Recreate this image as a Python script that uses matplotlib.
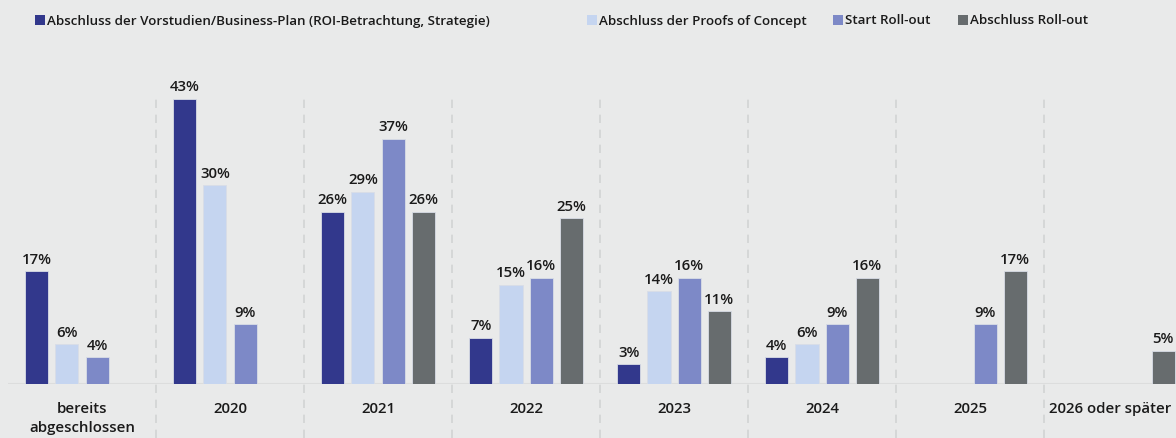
import numpy as np
import matplotlib.pyplot as plt
from matplotlib.patches import Rectangle
from matplotlib.transforms import blended_transform_factory

# --- DATA ---
categories = ['bereits\nabgeschlossen', '2020', '2021', '2022', '2023', '2024', '2025', '2026 oder später']
series_names = ['Abschluss der Vorstudien/Business-Plan (ROI-Betrachtung, Strategie)',
                'Abschluss der Proofs of Concept', 'Start Roll-out', 'Abschluss Roll-out']
vorstudien = [17, 43, 26, 7, 3, 4, None, None]
proofs = [6, 30, 29, 15, 14, 6, None, None]
start_rollout = [4, 9, 37, 16, 16, 9, 9, None]
abschluss_rollout = [None, None, 26, 25, 11, 16, 17, 5]

# --- CONFIG ---
COLORS = ['#32388c', '#c5d5f0', '#7d89c7', '#676c6e']
BG = '#e9eaea'
FONT = 'Open Sans'

plt.rcParams['font.family'] = [FONT, 'DejaVu Sans']

fig = plt.figure(figsize=(11.76, 4.39), dpi=100, facecolor=BG)
# axes spans pixel 8..1184 horizontally (cropped at the right edge), baseline at y=385
ax = fig.add_axes([8 / 1176, 54 / 439, 1176 / 1176, 331 / 439])
ax.set_facecolor(BG)

px_per_unit = 6.63
ax.set_xlim(-0.5, 7.5 - 8 / 147)
ax.set_ylim(0, 331 / px_per_unit)

all_series = [vorstudien, proofs, start_rollout, abschluss_rollout]
x = np.arange(len(categories))
step = 30 / 147
width = 23 / 147

for i, vals in enumerate(all_series):
    for j, v in enumerate(vals):
        if v is None:
            continue
        xpos = x[j] + (i - 1.5) * step
        ax.bar(xpos, v, width=width, color=COLORS[i], edgecolor='#d9dde6', linewidth=0.6, zorder=3)
        ax.annotate(f'{v}%', (xpos, v), xytext=(0, 4), textcoords='offset points',
                    ha='center', va='bottom', fontsize=10.8, fontweight='semibold', color='#1a1a1a')

# dashed separators between groups
bottom = -54 / px_per_unit
for k in range(1, len(categories)):
    ax.vlines(k - 0.5, bottom, 43.7, colors='#d2d4d4', linestyles=(0, (5, 4)), linewidth=1.2,
              clip_on=False, zorder=1)

# baseline
ax.axhline(0, color='#dcdddd', linewidth=1.5, zorder=2)

# category labels (last one is right-aligned so it stays inside the figure)
trans = blended_transform_factory(fig.transFigure, ax.transData)
for j, cat in enumerate(categories):
    if j == len(categories) - 1:
        ax.text(1171 / 1176, -2.5, cat, transform=trans, ha='right', va='top', fontsize=10.8,
                fontweight='semibold', color='#1a1a1a')
    else:
        ax.text(x[j], -2.5, cat, ha='center', va='top', fontsize=10.8, fontweight='semibold',
                color='#1a1a1a', linespacing=1.45)

for s in ax.spines.values():
    s.set_visible(False)
ax.set_xticks([])
ax.set_yticks([])

# legend (manual, top row)
legend_x = [35, 587, 833, 958]
for i, name in enumerate(series_names):
    fig.patches.append(Rectangle((legend_x[i] / 1176, 1 - 26 / 439), 10 / 1176, 10 / 439,
                                 transform=fig.transFigure, facecolor=COLORS[i], edgecolor='none'))
    fig.text((legend_x[i] + 12) / 1176, 1 - 21 / 439, name, ha='left', va='center',
             fontsize=9.6, fontweight='semibold', color='#1a1a1a')

fig.savefig('out.png', dpi=100, facecolor=BG)
